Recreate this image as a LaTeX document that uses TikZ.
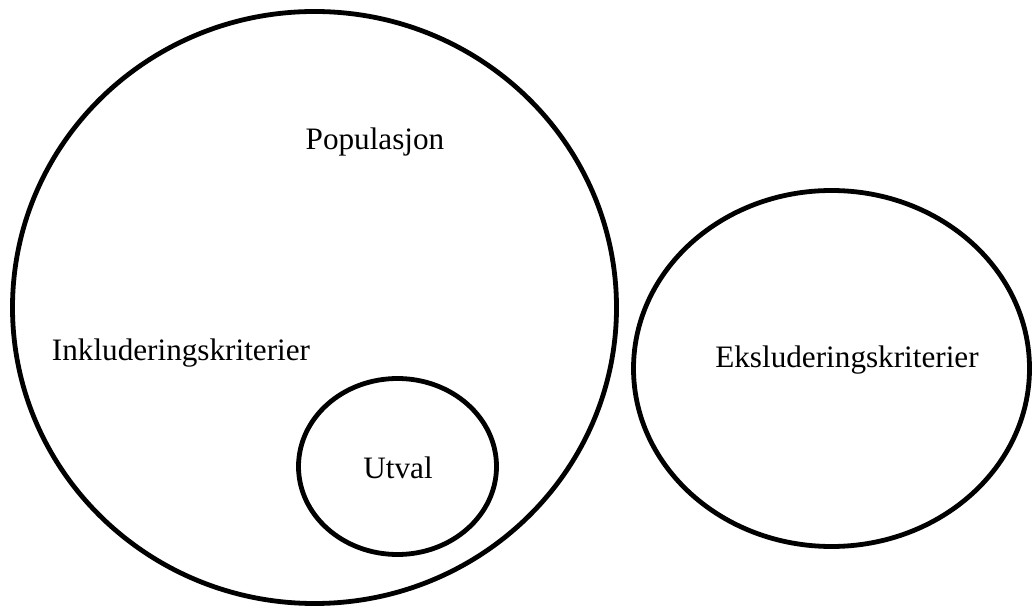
\documentclass[tikz,border=0pt]{standalone}
\usepackage{fontspec}
\setmainfont{Liberation Serif}
\usepackage{tikz}
\usepackage{xcolor}

\begin{document}
\begin{tikzpicture}[x=0.5pt,y=-0.5pt]
\useasboundingbox (0,0) rectangle (1032,608);
\tikzset{set/.style={line width=2.4pt}, lbl/.style={font=\fontsize{15.6}{18}\selectfont}}
\draw[set] (314.5,307.5) ellipse [x radius=302, y radius=296];
\draw[set] (397.5,466.5) ellipse [x radius=99, y radius=88];
\draw[set] (831.5,368.5) ellipse [x radius=198, y radius=178];
\node[lbl] (pop) at (375,142) {Populasjon};
\node[lbl] (inkl) at (181,353) {Inkluderingskriterier};
\node[lbl] (utval) at (398,468) {Utval};
\node[lbl] (eksl) at (847,360) {Eksluderingskriterier};
\end{tikzpicture}
\end{document}
